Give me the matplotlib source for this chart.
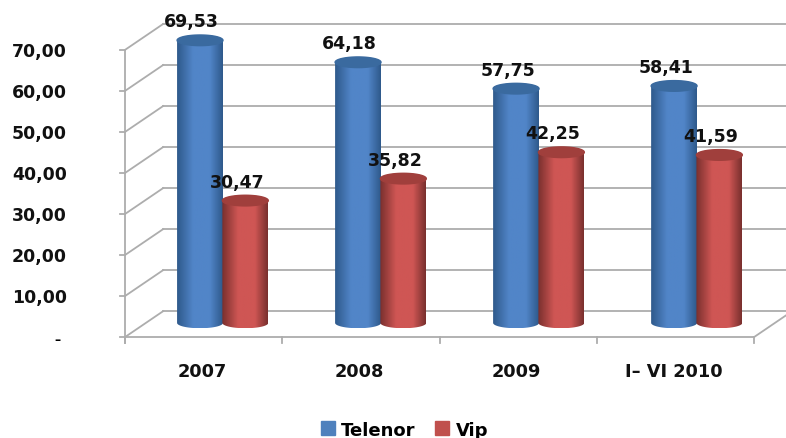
import matplotlib
matplotlib.use('Agg')
import matplotlib.pyplot as plt
import numpy as np
from matplotlib.colors import LinearSegmentedColormap
from matplotlib.patches import Patch, PathPatch
from matplotlib.path import Path

categories = ['2007', '2008', '2009', 'I\u2013 VI 2010']
telenor = [69.53, 64.18, 57.75, 58.41]
vip = [30.47, 35.82, 42.25, 41.59]
telenor_labels = ['69,53', '64,18', '57,75', '58,41']
vip_labels = ['30,47', '35,82', '42,25', '41,59']
y_ticks = [0, 10, 20, 30, 40, 50, 60, 70]
y_tick_labels = ['\u2013', '10,00', '20,00', '30,00', '40,00', '50,00', '60,00', '70,00']

plt.rcParams['font.family'] = ['DejaVu Sans']

fig = plt.figure(figsize=(7.86, 4.39), dpi=100)
ax = fig.add_axes([0, 0, 1, 1])
# x: one unit per category, y: value units. limits chosen to fit the picture
ax.set_xlim(-0.795, 4.203)
ax.set_ylim(-24.6, 82.4)
ax.axis('off')

grid = '#adadad'
depth_x = 0.242
depth_y = 6.3
n = len(categories)

# back wall grid and side wall lines
for v in y_ticks:
    ax.plot([depth_x, n + depth_x], [v + depth_y, v + depth_y], color=grid, lw=1.3, zorder=1)
    ax.plot([0, depth_x], [v, v + depth_y], color=grid, lw=1.3, zorder=1)
    ax.plot([-0.035, 0], [v, v], color=grid, lw=1.3, zorder=1)
    label = y_tick_labels[y_ticks.index(v)]
    if v == 0:
        ax.annotate(label, (-0.43, v), ha='center', va='center', fontsize=9,
                    fontweight='bold', xytext=(0, -2), textcoords='offset points')
    else:
        ax.annotate(label, (-0.37, v), ha='right', va='center', fontsize=12.5,
                    fontweight='bold', color='#111111', xytext=(0, -1), textcoords='offset points')

# front floor and axis
ax.plot([0, 0], [-1.5, 70], color=grid, lw=1.3, zorder=1)
ax.plot([0, n], [0, 0], color=grid, lw=1.3, zorder=1)
ax.plot([n, n + depth_x], [0, depth_y], color=grid, lw=1.3, zorder=1)
for i in range(n + 1):
    ax.plot([i, i], [0, -1.5], color=grid, lw=1.3, zorder=1)


def cylinder(cx, value, edge, mid, top):
    half_w = 0.146
    half_h = 1.3
    y0 = 3.45
    y1 = y0 + value - 0.65
    t = np.linspace(0, np.pi, 40)
    # side outline: down the left, round the bottom, up the right, round the top
    xs = np.concatenate([cx - half_w * np.cos(t), cx + half_w * np.cos(t)])
    ys = np.concatenate([y0 - half_h * np.sin(t), y1 + half_h * np.sin(t)])
    outline = Path(np.column_stack([xs, ys]))
    cmap = LinearSegmentedColormap.from_list('side', [(0, edge), (0.35, mid), (0.72, mid), (1, edge)])
    img = ax.imshow(np.linspace(0, 1, 64).reshape(1, -1), cmap=cmap, aspect='auto',
                    extent=[cx - half_w, cx + half_w, y0 - half_h, y1 + half_h], zorder=3)
    patch = PathPatch(outline, transform=ax.transData, fc='none', ec='none')
    ax.add_patch(patch)
    img.set_clip_path(patch)
    cap_x = cx + half_w * np.cos(np.linspace(0, 2 * np.pi, 80))
    cap_y = y1 + half_h * np.sin(np.linspace(0, 2 * np.pi, 80))
    ax.fill(cap_x, cap_y, color=top, zorder=4)


for i in range(n):
    cx = i + 0.477 + i * 0.0048
    cylinder(cx, telenor[i], '#2f5a8c', '#5185c8', '#3a6a9f')
    cylinder(cx + 0.288, vip[i], '#7a302e', '#cf5654', '#a03f3c')
    ax.annotate(telenor_labels[i], (cx, telenor[i] + 3), xytext=(-6, 13), textcoords='offset points',
                ha='center', va='center', fontsize=12.5, fontweight='bold', color='#111111', zorder=6)
    ax.annotate(vip_labels[i], (cx + 0.288, vip[i] + 3), xytext=(-6, 13), textcoords='offset points',
                ha='center', va='center', fontsize=12.5, fontweight='bold', color='#111111', zorder=6)
    ax.text(i + 0.49, -8.2, categories[i], ha='center', va='center', fontsize=12.8,
            fontweight='bold', color='#111111')

handles = [Patch(color='#4f81bd', label='Telenor'), Patch(color='#c0504d', label='Vip')]
ax.legend(handles=handles, loc='lower center', bbox_to_anchor=(0.5146, -0.03), ncol=2, frameon=False,
          prop={'size': 13, 'weight': 'bold'}, handlelength=0.78, handleheight=0.8,
          handletextpad=0.33, columnspacing=1.1, borderpad=0.2)

fig.savefig('out.png', dpi=100)
